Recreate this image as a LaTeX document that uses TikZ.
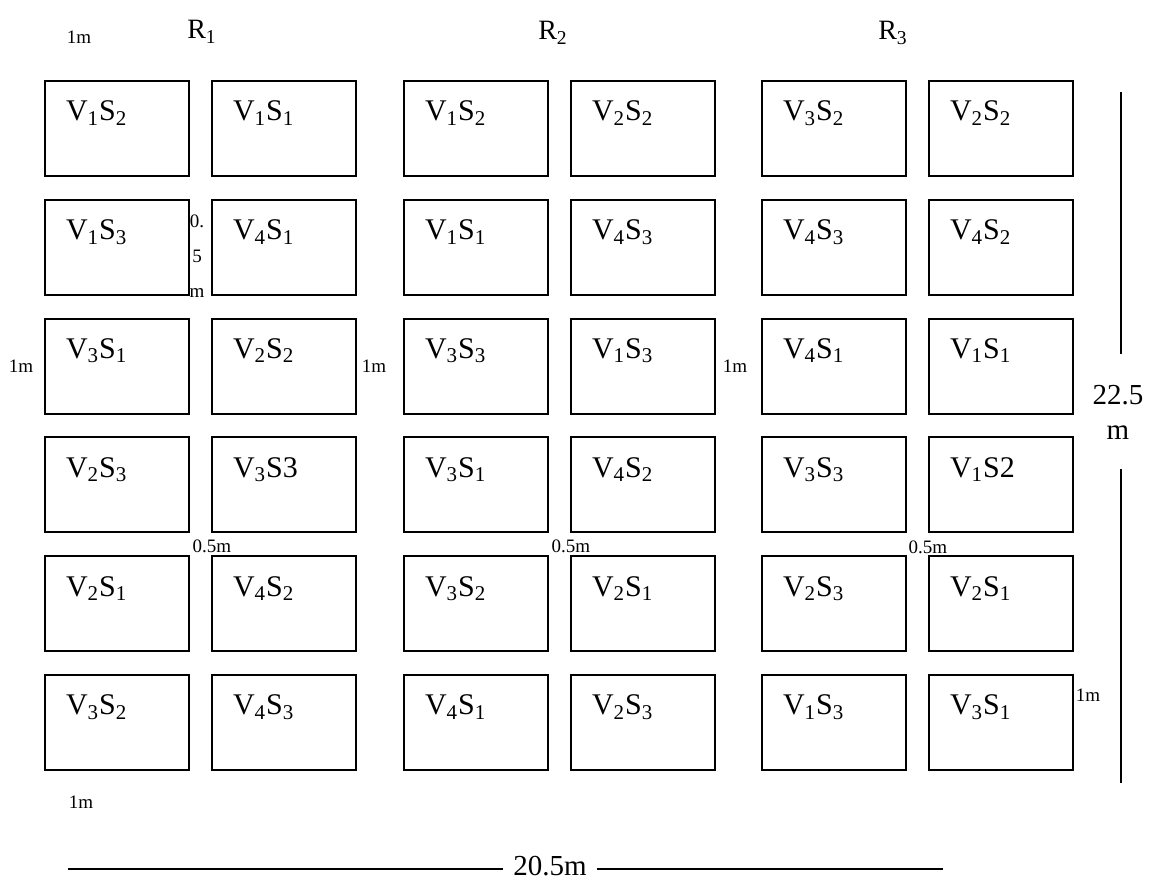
\documentclass[tikz,border=0pt]{standalone}
\usepackage{fontspec}
\setmainfont{Liberation Serif}
\usepackage{tikz}
\usetikzlibrary{positioning}
\newcommand{\vs}[2]{V\textsubscript{#1}S\textsubscript{#2}}
\tikzset{
  plotbox/.style={
    draw,
    line width=1pt,
    outer sep=0pt,
    minimum width=72pt,
    minimum height=47.5pt,
    inner xsep=10.5pt,
    inner ysep=0pt,
    text width=51pt,
    align=left,
    text height=20pt,
    text depth=27.5pt,
    font=\fontsize{15}{17}\selectfont
  },
  replabel/.style={font=\fontsize{14}{16}\selectfont, inner sep=0pt},
  gaplabel/.style={font=\fontsize{9.5}{17.5}\selectfont, inner sep=0pt},
  dimlabel/.style={font=\fontsize{14.5}{17.5}\selectfont, align=center},
  dimline/.style={line width=0.9pt}
}
\begin{document}
\begin{tikzpicture}[
  x=0.5pt, y=-0.5pt,
  node distance=11.9pt and 11.5pt
]
\useasboundingbox (0,0) rectangle (1153,881);
% replication 1
\node[plotbox] (a11) at (117,128.5) {\vs12};
\node[plotbox, right=of a11] (a12) {\vs11};
\node[plotbox, below=of a11] (a21) {\vs13};
\node[plotbox, right=of a21] (a22) {\vs41};
\node[plotbox, below=of a21] (a31) {\vs31};
\node[plotbox, right=of a31] (a32) {\vs22};
\node[plotbox, below=of a31] (a41) {\vs23};
\node[plotbox, right=of a41] (a42) {V\textsubscript{3}S3};
\node[plotbox, below=of a41] (a51) {\vs21};
\node[plotbox, right=of a51] (a52) {\vs42};
\node[plotbox, below=of a51] (a61) {\vs32};
\node[plotbox, right=of a61] (a62) {\vs43};
% replication 2
\node[plotbox] (b11) at (476,128.5) {\vs12};
\node[plotbox, right=of b11] (b12) {\vs22};
\node[plotbox, below=of b11] (b21) {\vs11};
\node[plotbox, right=of b21] (b22) {\vs43};
\node[plotbox, below=of b21] (b31) {\vs33};
\node[plotbox, right=of b31] (b32) {\vs13};
\node[plotbox, below=of b31] (b41) {\vs31};
\node[plotbox, right=of b41] (b42) {\vs42};
\node[plotbox, below=of b41] (b51) {\vs32};
\node[plotbox, right=of b51] (b52) {\vs21};
\node[plotbox, below=of b51] (b61) {\vs41};
\node[plotbox, right=of b61] (b62) {\vs23};
% replication 3
\node[plotbox] (c11) at (834,128.5) {\vs32};
\node[plotbox, right=of c11] (c12) {\vs22};
\node[plotbox, below=of c11] (c21) {\vs43};
\node[plotbox, right=of c21] (c22) {\vs42};
\node[plotbox, below=of c21] (c31) {\vs41};
\node[plotbox, right=of c31] (c32) {\vs11};
\node[plotbox, below=of c31] (c41) {\vs33};
\node[plotbox, right=of c41] (c42) {V\textsubscript{1}S2};
\node[plotbox, below=of c41] (c51) {\vs23};
\node[plotbox, right=of c51] (c52) {\vs21};
\node[plotbox, below=of c51] (c61) {\vs13};
\node[plotbox, right=of c61] (c62) {\vs31};
% replication names
\node[replabel] (r1) at (202,32) {R\textsubscript{1}};
\node[replabel] (r2) at (553,33) {R\textsubscript{2}};
\node[replabel] (r3) at (893,33) {R\textsubscript{3}};
% spacings
\node[gaplabel] (m1) at (79,37) {1m};
\node[gaplabel, align=center] (v1) at (197,256) {0.\\5\\m};
\node[gaplabel] (m2) at (21,366) {1m};
\node[gaplabel] (m3) at (374,366) {1m};
\node[gaplabel] (m4) at (735,366) {1m};
\node[gaplabel] (h1) at (212,546) {0.5m};
\node[gaplabel] (h2) at (571,546) {0.5m};
\node[gaplabel] (h3) at (928,547) {0.5m};
\node[gaplabel] (m5) at (1088,695) {1m};
\node[gaplabel] (m6) at (81,802) {1m};
% overall size
\coordinate (wleft) at (68,869);
\coordinate (wright) at (943,869);
\node[dimlabel, inner xsep=5pt] (width) at (550,866) {20.5m};
\draw[dimline] (wleft) -- (wleft -| width.west);
\draw[dimline] (width.east |- wright) -- (wright);
\coordinate (htop) at (1121,92);
\coordinate (hbot) at (1121,783);
\node[dimlabel, inner ysep=15pt] (height) at (1118,412) {22.5\\m};
\draw[dimline] (htop) -- (htop |- height.north);
\draw[dimline] (hbot |- height.south) -- (hbot);
\end{tikzpicture}
\end{document}
